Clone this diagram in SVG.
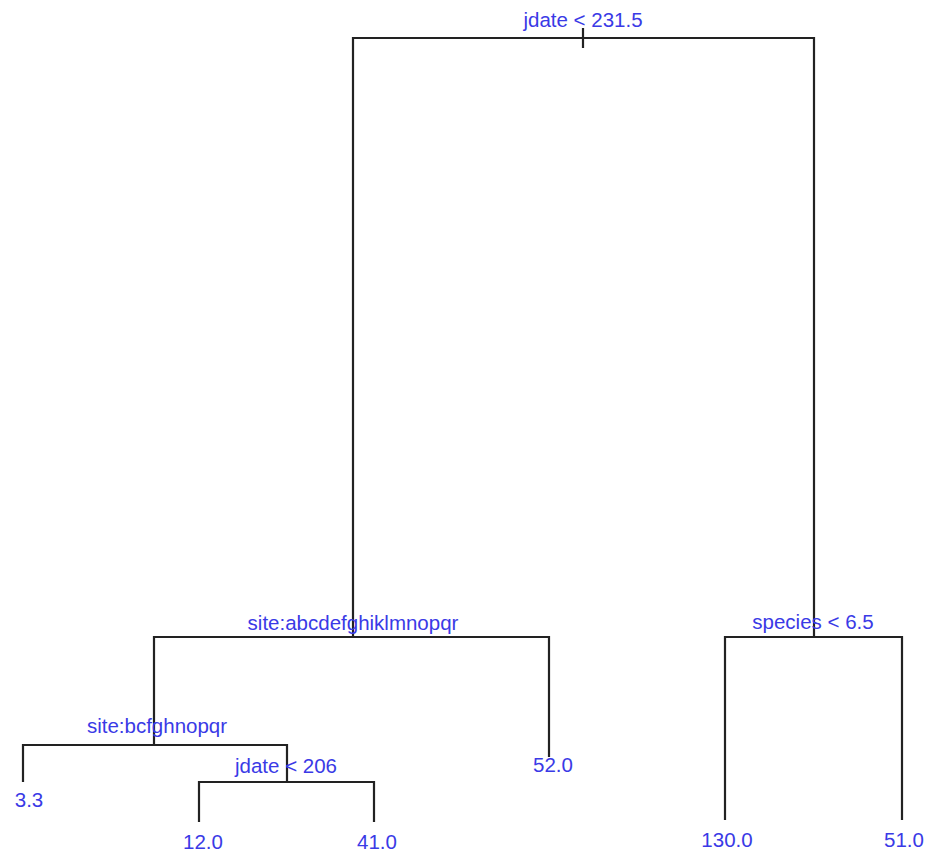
<svg xmlns="http://www.w3.org/2000/svg" width="930" height="856" viewBox="0 0 930 856">
<style>
.e{stroke:#222;stroke-width:2.2;fill:none}
.t{font-family:"Liberation Sans",Arial,sans-serif;font-size:20.5px;fill:#3a3ae6;text-anchor:middle}
</style>
<rect width="930" height="856" fill="#fff"/>
<g id="connectors">
<path class="e" d="M583,28V48"/>
<path class="e" d="M353,637V38H814V637"/>
<path class="e" d="M154,745V637H549V757"/>
<path class="e" d="M725,820V637H902V820"/>
<path class="e" d="M23,782V745H287V782"/>
<path class="e" d="M199,822V782H374V822"/>
</g>
<g id="n_root"><text class="t" x="583" y="27">jdate &lt; 231.5</text></g>
<g id="n_site1"><text class="t" x="353" y="630">site:abcdefghiklmnopqr</text></g>
<g id="n_species"><text class="t" x="813" y="629">species &lt; 6.5</text></g>
<g id="n_site2"><text class="t" x="157" y="733">site:bcfghnopqr</text></g>
<g id="n_jdate206"><text class="t" x="286" y="773">jdate &lt; 206</text></g>
<g id="n_52"><text class="t" x="553" y="772">52.0</text></g>
<g id="n_33"><text class="t" x="29" y="807">3.3</text></g>
<g id="n_12"><text class="t" x="203" y="849">12.0</text></g>
<g id="n_41"><text class="t" x="377" y="849">41.0</text></g>
<g id="n_130"><text class="t" x="727" y="847">130.0</text></g>
<g id="n_51"><text class="t" x="904" y="847">51.0</text></g>
</svg>
